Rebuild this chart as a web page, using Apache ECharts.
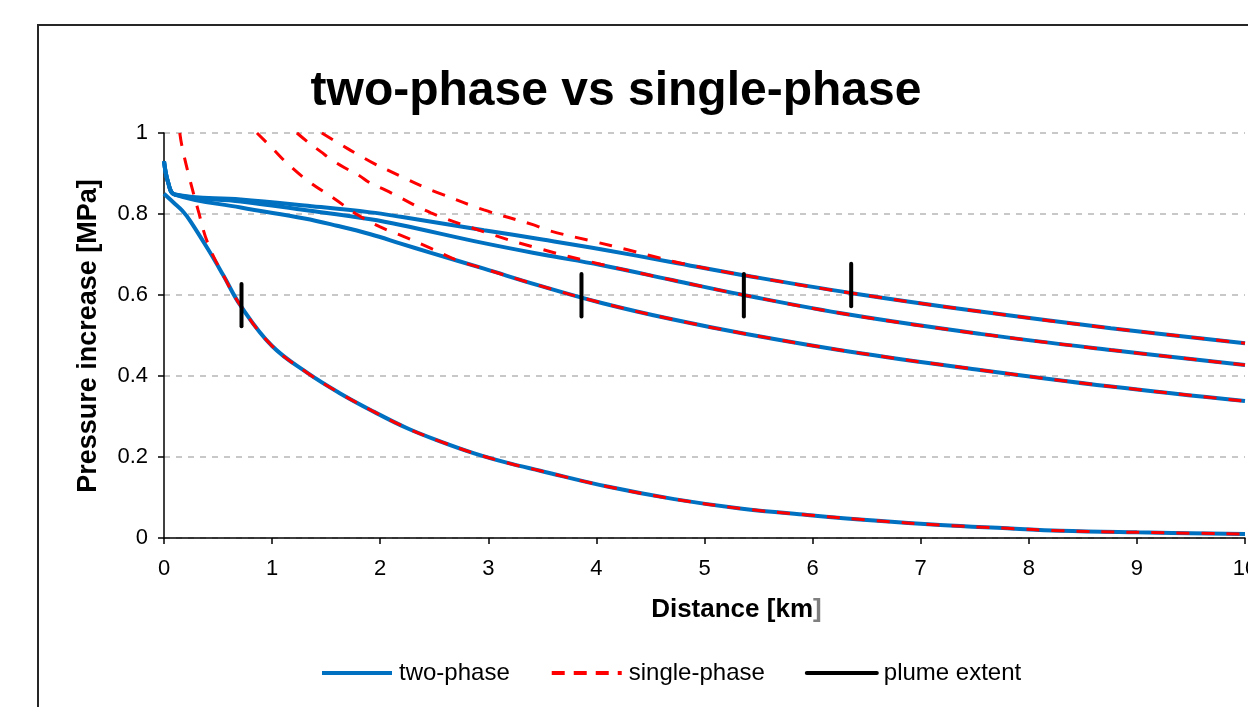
<!DOCTYPE html>
<html>
<head>
<meta charset="utf-8">
<script src="https://cdn.jsdelivr.net/npm/echarts@6/dist/echarts.min.js"></script>
<style>
  html, body { margin: 0; padding: 0; background: #fff; }
  #chart { width: 1248px; height: 707px; }
</style>
</head>
<body>
<div id="chart"></div>
<script>
// ---- Data (Distance [km], Pressure increase [MPa]) ----
// two-phase (blue)
const tp1X = [0, 0.09, 0.17, 0.245, 0.43, 0.55, 0.71, 1.0, 1.33, 1.63, 1.94, 2.25, 2.56, 2.87, 3.17, 3.48, 4.1, 4.72, 5.33, 5.95, 6.57, 7.18, 7.8, 8.29, 9.0, 10.0];
const tp1Y = [0.85, 0.828, 0.808, 0.782, 0.703, 0.648, 0.573, 0.474, 0.407, 0.357, 0.312, 0.271, 0.238, 0.209, 0.186, 0.166, 0.127, 0.096, 0.073, 0.057, 0.043, 0.032, 0.024, 0.018, 0.014, 0.010];

const tp2X = [0, 0.04, 0.1, 0.71, 1.3, 1.6, 1.91, 2.19, 2.47, 2.96, 3.45, 4.04, 4.7, 5.36, 6.35, 7.55, 8.76, 10];
const tp2Y = [0.93, 0.876, 0.848, 0.816, 0.789, 0.771, 0.75, 0.727, 0.704, 0.665, 0.625, 0.581, 0.54, 0.505, 0.46, 0.415, 0.374, 0.338];

const tp3X = [0, 0.04, 0.1, 0.71, 1.3, 1.91, 2.19, 2.96, 3.5, 4.04, 4.7, 5.36, 6.35, 7.55, 8.76, 10];
const tp3Y = [0.93, 0.876, 0.848, 0.831, 0.81, 0.787, 0.773, 0.728, 0.70, 0.674, 0.637, 0.600, 0.551, 0.504, 0.464, 0.427];

const tp4X = [0, 0.04, 0.1, 0.71, 1.3, 1.91, 2.19, 2.96, 3.5, 4.04, 4.7, 5.36, 6.35, 7.55, 8.76, 10];
const tp4Y = [0.93, 0.876, 0.848, 0.836, 0.821, 0.804, 0.793, 0.760, 0.737, 0.713, 0.681, 0.649, 0.605, 0.559, 0.518, 0.481];

// single-phase (red dashed)
const sp1X = [0.146, 0.168, 0.23, 0.315, 0.405, 0.55, 0.71, 1.0, 1.33, 1.63, 1.94, 2.25, 2.56, 2.87, 3.17, 3.48, 4.1, 4.72, 5.33, 5.95, 6.57, 7.18, 7.8, 8.29, 9.0, 10.0];
const sp1Y = [1.0, 0.965, 0.895, 0.81, 0.728, 0.648, 0.573, 0.474, 0.407, 0.357, 0.312, 0.271, 0.238, 0.209, 0.186, 0.166, 0.127, 0.096, 0.073, 0.057, 0.043, 0.032, 0.024, 0.018, 0.014, 0.010];

const sp2X = [0.86, 1.0, 1.14, 1.34, 1.57, 1.79, 2.0, 2.22, 2.47, 2.71, 2.96, 3.45, 4.04, 4.7, 5.36, 6.35, 7.55, 8.76, 10];
const sp2Y = [1.0, 0.963, 0.925, 0.88, 0.839, 0.798, 0.768, 0.744, 0.715, 0.686, 0.665, 0.625, 0.581, 0.54, 0.505, 0.46, 0.415, 0.374, 0.338];

const sp3X = [1.23, 1.325, 1.45, 1.556, 1.68, 1.80, 1.91, 2.05, 2.47, 2.96, 3.45, 4.04, 4.7, 5.36, 6.35, 7.55, 8.76, 10];
const sp3Y = [1.0, 0.979, 0.954, 0.933, 0.913, 0.896, 0.876, 0.859, 0.803, 0.756, 0.716, 0.676, 0.637, 0.600, 0.551, 0.504, 0.464, 0.427];

const sp4X = [1.46, 1.695, 1.80, 1.94, 2.065, 2.26, 2.40, 2.53, 2.96, 3.42, 3.545, 4.01, 4.27, 4.53, 4.79, 5.36, 6.35, 7.55, 8.76, 10];
const sp4Y = [1.0, 0.962, 0.946, 0.925, 0.909, 0.884, 0.867, 0.853, 0.81, 0.773, 0.760, 0.730, 0.713, 0.695, 0.678, 0.649, 0.605, 0.559, 0.518, 0.481];

// plume extent markers
const plumeX = [0.717, 3.862, 5.364, 6.357];
const plumeLow = [0.523, 0.547, 0.547, 0.572];
const plumeHigh = [0.627, 0.652, 0.652, 0.677];

// axis ticks
const xTicks = [0, 1, 2, 3, 4, 5, 6, 7, 8, 9, 10];
const yTicks = [0, 0.2, 0.4, 0.6, 0.8, 1];

const FONT = '"Liberation Sans", Arial, sans-serif';
const BLUE = '#0070C0';
const RED = '#FF0000';

function zip(xs, ys) { return xs.map((x, i) => [x, ys[i]]); }

const series = [];
[[tp1X, tp1Y], [tp2X, tp2Y], [tp3X, tp3Y], [tp4X, tp4Y]].forEach(([xs, ys]) => {
  series.push({
    name: 'two-phase', type: 'line', data: zip(xs, ys),
    showSymbol: false, symbol: 'none', smooth: 0.4, z: 2,
    lineStyle: { color: BLUE, width: 4 }, itemStyle: { color: BLUE }
  });
});
[[sp1X, sp1Y], [sp2X, sp2Y], [sp3X, sp3Y], [sp4X, sp4Y]].forEach(([xs, ys]) => {
  series.push({
    name: 'single-phase', type: 'line', data: zip(xs, ys),
    showSymbol: false, symbol: 'none', smooth: 0.4, z: 3,
    lineStyle: { color: RED, width: 3, type: [13, 12] }, itemStyle: { color: RED }
  });
});
plumeX.forEach((x, i) => {
  series.push({
    name: 'plume extent', type: 'line', data: [[x, plumeLow[i]], [x, plumeHigh[i]]],
    showSymbol: false, symbol: 'none', z: 4,
    lineStyle: { color: '#000', width: 4, cap: 'round' }, itemStyle: { color: '#000' }
  });
});

const chart = echarts.init(document.getElementById('chart'), null, { renderer: 'canvas' });
chart.setOption({
  animation: false,
  backgroundColor: '#fff',
  grid: { left: 164, top: 133, right: 3, bottom: 169, containLabel: false, outerBoundsMode: 'none' },
  xAxis: {
    type: 'value', min: 0, max: 10, interval: 1,
    axisLine: { show: true, onZero: false, lineStyle: { color: '#000', width: 1.5 } },
    axisTick: { show: true, inside: false, length: 6, lineStyle: { color: '#000', width: 1.5 } },
    axisLabel: { color: '#000', fontFamily: FONT, fontSize: 22, margin: 20,
      customValues: xTicks, hideOverlap: false },
    splitLine: { show: false }
  },
  yAxis: {
    type: 'value', min: 0, max: 1, interval: 0.2,
    axisLine: { show: true, lineStyle: { color: '#000', width: 1.5 } },
    axisTick: { show: true, inside: false, length: 6, lineStyle: { color: '#000', width: 1.5 } },
    axisLabel: { color: '#000', fontFamily: FONT, fontSize: 22, margin: 16,
      formatter: v => String(Math.round(v * 10) / 10) },
    splitLine: { show: true, lineStyle: { color: '#C8C8C8', width: 2, type: [6, 6] } }
  },
  legend: {
    data: [
      { name: 'two-phase', lineStyle: { width: 4 } },
      { name: 'single-phase', lineStyle: { width: 4, type: [13, 9] } },
      { name: 'plume extent', lineStyle: { width: 4 } }
    ],
    left: 315, top: 656,
    itemWidth: 70, itemHeight: 14, itemGap: 40,
    itemStyle: { opacity: 0 },
    textStyle: { color: '#000', fontFamily: FONT, fontSize: 24, padding: [0, 0, 0, 2] }
  },
  graphic: [
    { type: 'rect', shape: { x: 38, y: 25, width: 1400, height: 900 },
      style: { fill: 'none', stroke: '#262626', lineWidth: 2 }, z: -10, silent: true },
    { type: 'text', x: 616, y: 92,
      style: { text: 'two-phase vs single-phase', fill: '#000', font: 'bold 48px ' + FONT,
               align: 'center', verticalAlign: 'middle' } },
    { type: 'text', x: 813, y: 610,
      style: { text: 'Distance [km', fill: '#000', font: 'bold 26px ' + FONT,
               align: 'right', verticalAlign: 'middle' } },
    { type: 'text', x: 813, y: 610,
      style: { text: ']', fill: '#7F7F7F', font: 'bold 26px ' + FONT,
               align: 'left', verticalAlign: 'middle' } },
    { type: 'text', x: 89, y: 336, rotation: Math.PI / 2,
      style: { text: 'Pressure increase [MPa]', fill: '#000', font: 'bold 27px ' + FONT,
               align: 'center', verticalAlign: 'middle' } }
  ],
  series: series
});
</script>
</body>
</html>
